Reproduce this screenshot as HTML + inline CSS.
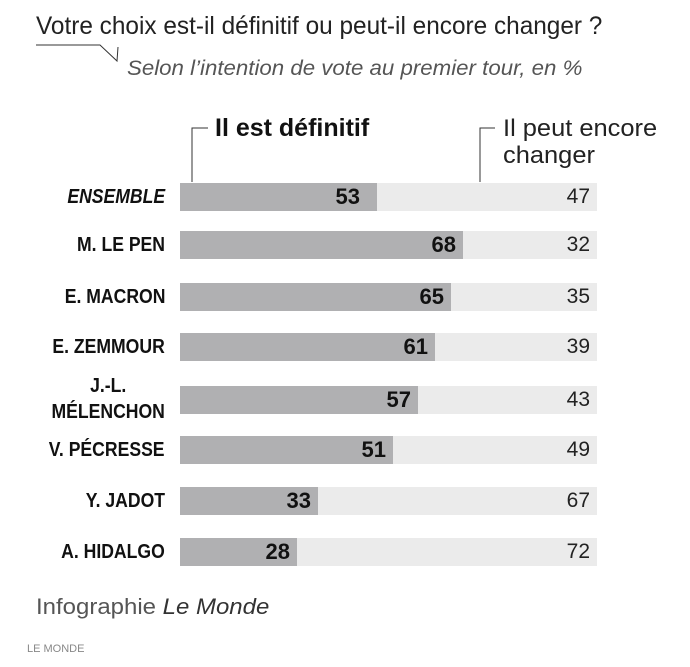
<!DOCTYPE html>
<html><head><meta charset="utf-8"><style>
body{margin:0;width:690px;height:667px;background:#fff;position:relative;overflow:hidden;font-family:"Liberation Sans",sans-serif;}
.a{position:absolute;white-space:nowrap;}
.lab{position:absolute;right:525px;font-weight:bold;font-size:20px;color:#111;transform:scaleX(0.88);transform-origin:right center;line-height:28px;}
.bg{position:absolute;left:180px;width:417px;height:28px;background:#ebebeb;}
.fg{position:absolute;left:180px;height:28px;background:#b0b0b2;}
.v1{position:absolute;font-weight:bold;font-size:22px;color:#111;line-height:28px;text-align:right;}
.v2{position:absolute;right:100px;font-size:21px;color:#222;line-height:28px;}
</style></head><body>
<div class="a" style="left:36px;top:12px;font-size:25px;color:#222;transform:scaleX(0.975);transform-origin:left;">Votre choix est-il définitif ou peut-il encore changer ?</div>
<svg class="a" style="left:0;top:0" width="690" height="200">
<polyline points="36,45 100,45 117,61 118,47" fill="none" stroke="#333" stroke-width="1"/>
<polyline points="208,128 192,128 192,182" fill="none" stroke="#333" stroke-width="1"/>
<polyline points="495,128 480,128 480,182" fill="none" stroke="#333" stroke-width="1"/>
</svg>
<div class="a" style="left:127px;top:57px;font-size:21px;font-style:italic;color:#555;transform:scaleX(1.06);transform-origin:left;">Selon l’intention de vote au premier tour, en %</div>
<div class="a" style="left:215px;top:114px;font-size:25px;font-weight:bold;color:#111;transform:scaleX(1.0);transform-origin:left;">Il est définitif</div>
<div class="a" style="left:503px;top:115px;font-size:24px;color:#222;line-height:27px;transform:scaleX(1.06);transform-origin:left;">Il peut encore<br>changer</div>

<div class="lab" style="top:183px;font-style:italic;font-weight:bold">ENSEMBLE</div>
<div class="bg" style="top:183px"></div><div class="fg" style="top:183px;width:197px"></div>
<div class="v1" style="top:183px;left:300px;width:60px">53</div><div class="v2" style="top:183px">47</div>

<div class="lab" style="top:231px">M. LE PEN</div>
<div class="bg" style="top:231px"></div><div class="fg" style="top:231px;width:283px"></div>
<div class="v1" style="top:231px;left:396px;width:60px">68</div><div class="v2" style="top:231px">32</div>

<div class="lab" style="top:283px">E. MACRON</div>
<div class="bg" style="top:283px"></div><div class="fg" style="top:283px;width:271px"></div>
<div class="v1" style="top:283px;left:384px;width:60px">65</div><div class="v2" style="top:283px">35</div>

<div class="lab" style="top:333px">E. ZEMMOUR</div>
<div class="bg" style="top:333px"></div><div class="fg" style="top:333px;width:255px"></div>
<div class="v1" style="top:333px;left:368px;width:60px">61</div><div class="v2" style="top:333px">39</div>

<div class="lab" style="top:373px;line-height:26px;text-align:center">J.-L.<br>MÉLENCHON</div>
<div class="bg" style="top:386px"></div><div class="fg" style="top:386px;width:238px"></div>
<div class="v1" style="top:386px;left:351px;width:60px">57</div><div class="v2" style="top:386px">43</div>

<div class="lab" style="top:436px">V. PÉCRESSE</div>
<div class="bg" style="top:436px"></div><div class="fg" style="top:436px;width:213px"></div>
<div class="v1" style="top:436px;left:326px;width:60px">51</div><div class="v2" style="top:436px">49</div>

<div class="lab" style="top:487px">Y. JADOT</div>
<div class="bg" style="top:487px"></div><div class="fg" style="top:487px;width:138px"></div>
<div class="v1" style="top:487px;left:251px;width:60px">33</div><div class="v2" style="top:487px">67</div>

<div class="lab" style="top:538px">A. HIDALGO</div>
<div class="bg" style="top:538px"></div><div class="fg" style="top:538px;width:117px"></div>
<div class="v1" style="top:538px;left:230px;width:60px">28</div><div class="v2" style="top:538px">72</div>

<div class="a" style="left:36px;top:594px;font-size:22px;color:#555;transform:scaleX(1.09);transform-origin:left;">Infographie <i style="color:#333">Le Monde</i></div>
<div class="a" style="left:27px;top:643px;font-size:11px;color:#888;">LE MONDE</div>
</body></html>
